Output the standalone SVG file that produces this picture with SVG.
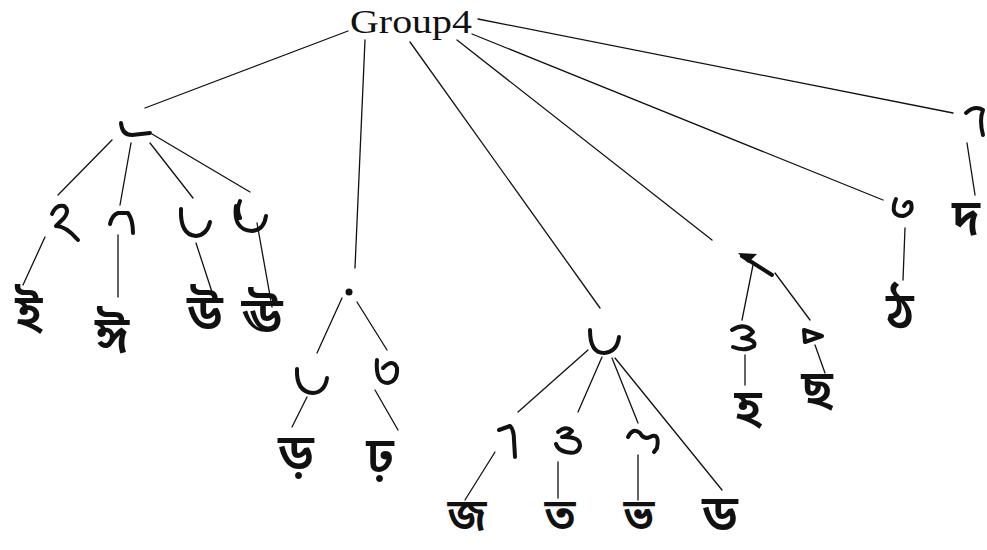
<svg xmlns="http://www.w3.org/2000/svg" width="987" height="550" viewBox="0 0 987 550">
  <style>
    .edge { stroke: #111; stroke-width: 1.3; fill: none; stroke-linecap: round; }
    .part { stroke: #111; stroke-width: 4; fill: none; stroke-linecap: round; stroke-linejoin: round; }
    .root { font-family: "Liberation Serif", serif; font-size: 34px; fill: #111; }
    .leaf { font-family: "Noto Sans Bengali", "Noto Serif Bengali", "Noto Sans", sans-serif; font-size: 50px; font-weight: 600; fill: #111; text-anchor: middle; }
    .low { font-size: 44px; }
  </style>
  <rect width="987" height="550" fill="#fff"/>

  <!-- connectors -->
  <g id="connectors">
    <line class="edge" x1="348" y1="31" x2="145" y2="108"/>
    <line class="edge" x1="365" y1="40" x2="355" y2="268"/>
    <line class="edge" x1="410" y1="42" x2="600" y2="308"/>
    <line class="edge" x1="457" y1="40" x2="712" y2="240"/>
    <line class="edge" x1="472" y1="34" x2="883" y2="200"/>
    <line class="edge" x1="478" y1="19" x2="953" y2="113"/>

    <line class="edge" x1="112" y1="140" x2="58" y2="195"/>
    <line class="edge" x1="131" y1="143" x2="120" y2="205"/>
    <line class="edge" x1="150" y1="143" x2="193" y2="198"/>
    <line class="edge" x1="152" y1="134" x2="250" y2="192"/>
    <line class="edge" x1="45" y1="237" x2="23" y2="285"/>
    <line class="edge" x1="118" y1="235" x2="118" y2="297"/>
    <line class="edge" x1="196" y1="243" x2="212" y2="292"/>
    <line class="edge" x1="257" y1="223" x2="272" y2="307"/>

    <line class="edge" x1="342" y1="298" x2="317" y2="353"/>
    <line class="edge" x1="357" y1="302" x2="387" y2="350"/>
    <line class="edge" x1="307" y1="397" x2="292" y2="427"/>
    <line class="edge" x1="375" y1="390" x2="398" y2="430"/>

    <line class="edge" x1="588" y1="350" x2="518" y2="412"/>
    <line class="edge" x1="602" y1="357" x2="578" y2="412"/>
    <line class="edge" x1="612" y1="358" x2="638" y2="423"/>
    <line class="edge" x1="615" y1="358" x2="722" y2="490"/>
    <line class="edge" x1="495" y1="452" x2="465" y2="500"/>
    <line class="edge" x1="558" y1="462" x2="558" y2="498"/>
    <line class="edge" x1="638" y1="455" x2="638" y2="500"/>

    <line class="edge" x1="753" y1="265" x2="742" y2="320"/>
    <line class="edge" x1="775" y1="273" x2="810" y2="320"/>
    <line class="edge" x1="745" y1="355" x2="745" y2="385"/>
    <line class="edge" x1="815" y1="345" x2="825" y2="373"/>

    <line class="edge" x1="905" y1="228" x2="903" y2="280"/>
    <line class="edge" x1="967" y1="143" x2="975" y2="195"/>
  </g>

  <!-- root -->
  <g id="n-root"><text class="root" x="350" y="33" textLength="122" lengthAdjust="spacingAndGlyphs">Group4</text></g>

  <!-- stroke parts -->
  <g id="n-a"><path class="part" d="M121,123 Q122,135 132,135 L150,133"/></g>
  <g id="n-a1"><path class="part" d="M52,214 Q56,204 64,206 Q70,210 64,218 L56,226 Q66,226 78,240"/></g>
  <g id="n-a2"><path class="part" d="M110,224 Q112,215 118,213 L128,213 Q133,220 133,233"/></g>
  <g id="n-a3"><path class="part" d="M181,209 Q180,235 196,236 Q207,235 210,222"/></g>
  <g id="n-a4"><path class="part" d="M236,206 Q233,230 252,231 Q264,230 266,216 M240,201 Q236,210 240,218"/></g>

  <g id="n-b"><circle cx="349" cy="292" r="3.5" fill="#111"/></g>
  <g id="n-b1"><path class="part" d="M297,369 Q296,392 313,393 Q325,392 327,378"/></g>
  <g id="n-b2"><path class="part" d="M377,360 Q375,383 388,383 Q398,381 397,368 Q393,358 383,368"/></g>

  <g id="n-c"><path class="part" d="M590,330 Q590,353 604,353 Q617,352 619,337"/></g>
  <g id="n-c1"><path class="part" d="M499,430 L510,426 Q514,430 514,440 L515,457"/></g>
  <g id="n-c2"><path class="part" d="M558,432 Q566,425 572,431 Q566,437 562,437 Q580,436 580,446 Q578,455 566,452 Q558,450 556,444"/></g>
  <g id="n-c3"><path class="part" d="M628,437 Q633,427 640,433 Q644,440 650,437 Q660,432 657,448 L654,452"/></g>

  <g id="n-d"><path class="part" d="M742,256 L772,275"/><path d="M738,253 L757,254 L748,263 Z" fill="#111"/></g>
  <g id="n-d1"><path class="part" d="M732,330 Q745,322 753,332 Q748,338 742,338 Q757,340 754,346 Q745,352 733,347"/></g>
  <g id="n-d2"><path class="part" d="M804,330 L822,336 L805,342 Z" stroke-width="3"/></g>

  <g id="n-e"><path class="part" d="M896,199 Q889,216 903,216 Q914,213 911,203 Q907,200 904,206"/></g>
  <g id="n-f"><path class="part" d="M966,113 Q975,105 983,110 Q979,120 983,135"/></g>

  <!-- leaf letters -->
  <g id="l-i"><text class="leaf" x="29" y="330">ই</text></g>
  <g id="l-ii"><text class="leaf" x="112" y="352">ঈ</text></g>
  <g id="l-u"><text class="leaf" x="205" y="330">উ</text></g>
  <g id="l-uu"><text class="leaf" x="262" y="333">ঊ</text></g>
  <g id="l-rra"><text class="leaf" x="296" y="470">ড়</text></g>
  <g id="l-rha"><text class="leaf" x="380" y="473">ঢ়</text></g>
  <g id="l-ja"><text class="leaf low" x="467" y="530">জ</text></g>
  <g id="l-ta"><text class="leaf low" x="560" y="530">ত</text></g>
  <g id="l-bha"><text class="leaf low" x="639" y="530">ভ</text></g>
  <g id="l-dda"><text class="leaf" x="720" y="531">ড</text></g>
  <g id="l-ha"><text class="leaf" x="748" y="425">হ</text></g>
  <g id="l-cha"><text class="leaf" x="817" y="406">ছ</text></g>
  <g id="l-ttha"><text class="leaf" x="900" y="328">ঠ</text></g>
  <g id="l-da"><text class="leaf" x="966" y="235">দ</text></g>
</svg>
